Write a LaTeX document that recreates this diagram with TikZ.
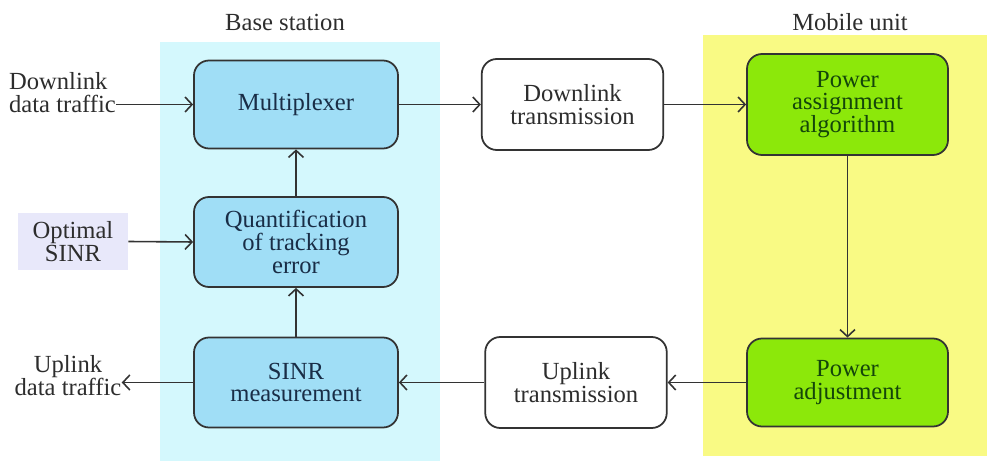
\documentclass[tikz,border=0pt]{standalone}
\usepackage{fontspec}
\setmainfont{Liberation Serif}
\usepackage{tikz}
\usetikzlibrary{arrows.meta}
\usetikzlibrary{backgrounds}

\definecolor{basebg}{RGB}{212,248,253}
\definecolor{mobilebg}{RGB}{249,250,132}
\definecolor{bluebox}{RGB}{160,222,246}
\definecolor{greenbox}{RGB}{140,232,10}
\definecolor{optbg}{RGB}{232,232,250}
\definecolor{bluetext}{RGB}{25,45,70}
\definecolor{greentext}{RGB}{20,70,10}
\definecolor{graytext}{RGB}{45,45,45}

\begin{document}
\begin{tikzpicture}[
    every node/.style={font=\fontsize{14}{13}\selectfont, align=center},
    blk/.style={draw=black!80, line width=1pt, rounded corners=0.3cm, minimum width=4.08cm, minimum height=1.8cm},
    bsblk/.style={blk, fill=bluebox, text=bluetext},
    mublk/.style={blk, fill=greenbox, text=greentext, minimum width=4.02cm},
    lnkblk/.style={blk, fill=white, text=graytext, minimum width=3.63cm},
    lbl/.style={text=graytext, inner sep=0pt},
    line/.style={-{Straight Barb[length=1.4mm, width=3mm]}, black!80, line width=0.9pt}
]
    \useasboundingbox (0,0) rectangle (19.74,-9.22);

    % regions
    \fill [basebg] (3.2,-0.84) rectangle (8.8,-9.22);
    \fill [mobilebg] (14.06,-0.7) rectangle (19.74,-9.12);
    \node (BS) at (5.7,-0.44) [lbl] {Base station};
    \node (MU) at (17.0,-0.44) [lbl] {Mobile unit};

    % base station
    \node (MUX) at (5.92,-2.09) [bsblk, minimum height=1.76cm] {Multiplexer};
    \node (QTE) at (5.92,-4.84) [bsblk] {Quantification\\of tracking\\error};
    \node (SM) at (5.92,-7.65) [bsblk] {SINR\\measurement};

    % links
    \node (DT) at (11.45,-2.09) [lnkblk, minimum height=1.82cm] {Downlink\\transmission};
    \node (UT) at (11.52,-7.65) [lnkblk, minimum height=1.82cm] {Uplink\\transmission};

    % mobile unit
    \node (PAA) at (16.95,-2.09) [mublk, minimum height=2.02cm] {Power\\assignment\\algorithm};
    \node (PA) at (16.95,-7.65) [mublk, minimum height=1.76cm] {Power\\adjustment};

    % inputs and outputs
    \node (DL) at (1.25,-1.86) [lbl, align=left] {Downlink\\data traffic};
    \node (UL) at (1.36,-7.52) [lbl] {Uplink\\data traffic};
    \node (OS) at (1.46,-4.83) [fill=optbg, text=graytext, minimum width=2.2cm, minimum height=1.14cm, inner sep=0pt] {Optimal\\SINR};

    \draw [line] (DL.east |- MUX.west) -- (MUX.west);
    \draw [line] (OS.east) -- (QTE.west);
    \draw [line] (SM.west) -- (UL.east |- SM.west);

    \draw [line] (MUX) -- (DT);
    \draw [line] (DT) -- (PAA);
    \draw [line] (PAA) -- (PA);
    \draw [line] (PA) -- (UT);
    \draw [line] (UT) -- (SM);
    \draw [line] (SM) -- (QTE);
    \draw [line] (QTE) -- (MUX);

\end{tikzpicture}
\end{document}
